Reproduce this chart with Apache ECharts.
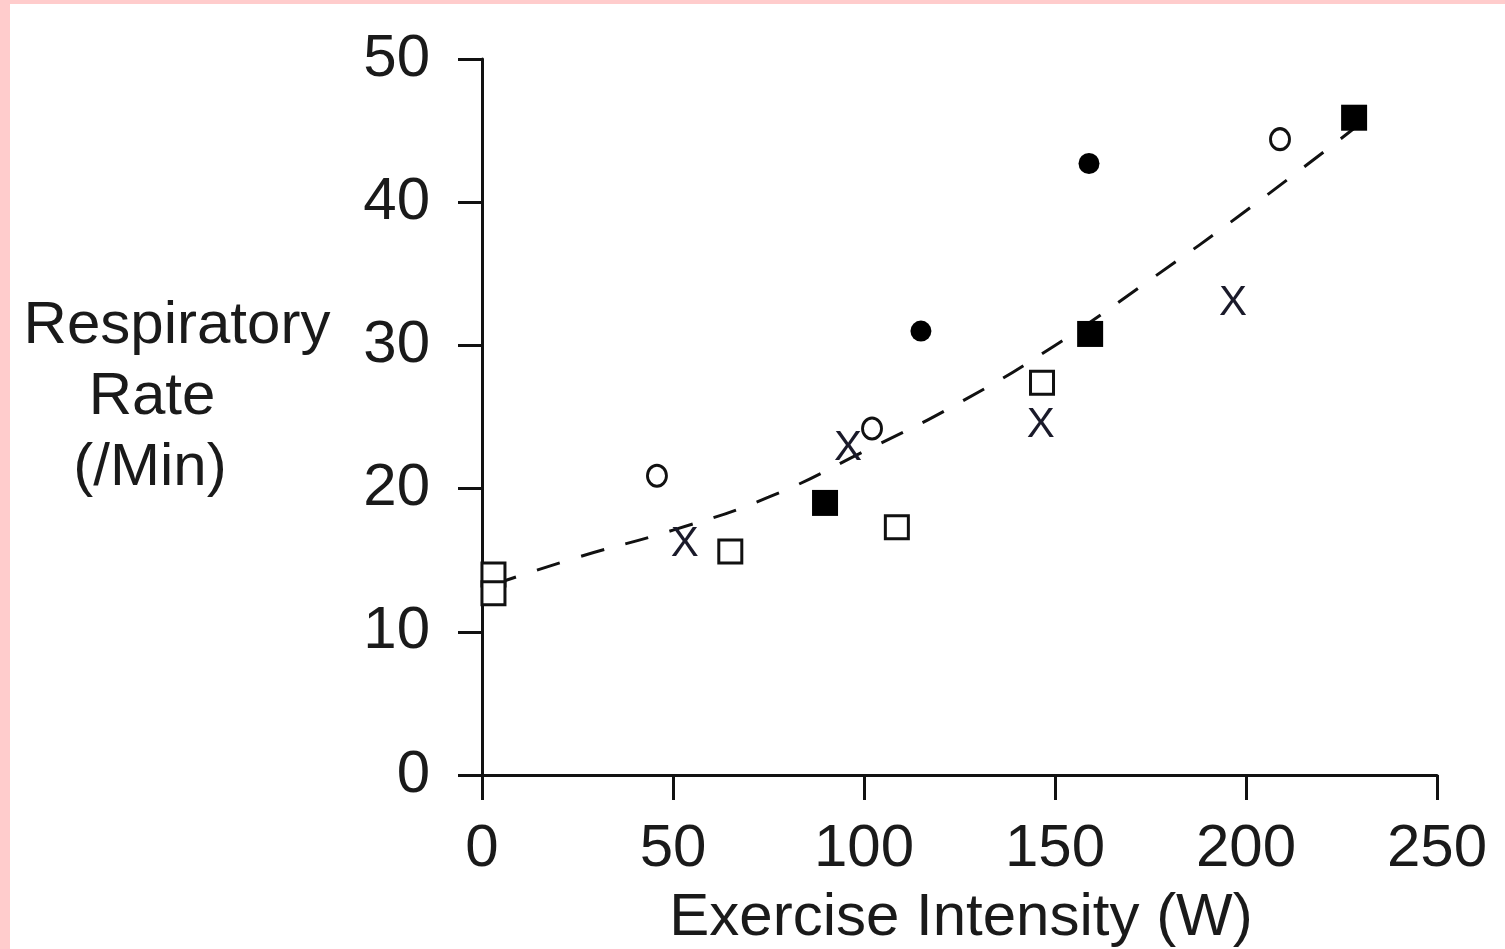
<!DOCTYPE html>
<html>
<head>
<meta charset="utf-8">
<script src="https://cdn.jsdelivr.net/npm/echarts@6/dist/echarts.min.js"></script>
<style>
html,body{margin:0;padding:0;background:#ffcccc;}
#wrap{position:absolute;left:10px;top:4px;width:1495px;height:945px;background:#fff;}
#c{position:absolute;left:0;top:0;width:1505px;height:949px;}
</style>
</head>
<body>
<div id="wrap"></div>
<div id="c"></div>
<script>
const xTicks = [0, 50, 100, 150, 200, 250];
const yTicks = [0, 10, 20, 30, 40, 50];
const openSquares = [[3, 14.0], [3, 12.7], [65, 15.6], [108.6, 17.3], [146.6, 27.4]];
const filledSquares = [[89.8, 19.0], [159.2, 30.8], [228.3, 45.9]];
const filledCircles = [[114.9, 31.0], [158.9, 42.7]];
const openCircles = [[45.8, 20.9], [102.1, 24.2], [208.9, 44.4]];
const crossMarks = [[53.1, 16.1], [95.8, 22.8], [146.3, 24.4], [196.6, 32.9]];
const trendLine = [[3, 13.3], [25, 15.2], [50, 17.1], [75, 19.4], [100, 22.6], [125, 26.0], [150, 30.0], [175, 34.6], [200, 39.4], [229, 45.3]];

const FONT = "'Liberation Sans', Arial, sans-serif";
const INK = '#111';
const TXT = '#1a1a1a';
const chart = echarts.init(document.getElementById('c'), null, {renderer: 'canvas'});
chart.setOption({
  backgroundColor: 'transparent',
  animation: false,
  grid: {left: 482, right: 68, top: 59, bottom: 174, containLabel: false},
  xAxis: {
    type: 'value', min: xTicks[0], max: xTicks[xTicks.length - 1], interval: 50,
    axisLine: {show: true, onZero: false, lineStyle: {color: INK, width: 3}},
    axisTick: {show: true, inside: false, length: 25, lineStyle: {color: INK, width: 3}},
    splitLine: {show: false},
    axisLabel: {margin: 44, fontFamily: FONT, fontSize: 60, color: TXT}
  },
  yAxis: {
    type: 'value', min: yTicks[0], max: yTicks[yTicks.length - 1], interval: 10,
    axisLine: {show: true, onZero: false, lineStyle: {color: INK, width: 3}},
    axisTick: {show: true, inside: false, length: 24, lineStyle: {color: INK, width: 3}},
    splitLine: {show: false},
    axisLabel: {margin: 52, fontFamily: FONT, fontSize: 60, color: TXT}
  },
  graphic: [
    {type: 'text', x: 177, y: 326, style: {text: 'Respiratory', fill: TXT, font: '60px ' + FONT, textAlign: 'center', textVerticalAlign: 'middle'}},
    {type: 'text', x: 152, y: 397, style: {text: 'Rate', fill: TXT, font: '60px ' + FONT, textAlign: 'center', textVerticalAlign: 'middle'}},
    {type: 'text', x: 150, y: 468, style: {text: '(/Min)', fill: TXT, font: '60px ' + FONT, textAlign: 'center', textVerticalAlign: 'middle'}},
    {type: 'text', x: 961, y: 918, style: {text: 'Exercise Intensity (W)', fill: TXT, font: '60px ' + FONT, textAlign: 'center', textVerticalAlign: 'middle'}}
  ],
  series: [
    {type: 'line', data: trendLine, smooth: true, symbol: 'none', z: 1,
     lineStyle: {color: INK, width: 3, type: [24, 22]}},
    {type: 'scatter', data: openSquares, symbol: 'rect', symbolSize: 23, z: 3,
     itemStyle: {color: '#fff', borderColor: INK, borderWidth: 3, opacity: 1}},
    {type: 'scatter', data: filledSquares, symbol: 'rect', symbolSize: 26, z: 3,
     itemStyle: {color: '#000', opacity: 1}},
    {type: 'scatter', data: filledCircles, symbol: 'circle', symbolSize: 21, z: 3,
     itemStyle: {color: '#000', opacity: 1}},
    {type: 'scatter', data: openCircles, symbol: 'circle', symbolSize: [19, 21], z: 3,
     itemStyle: {color: '#fff', borderColor: INK, borderWidth: 3, opacity: 1}},
    {type: 'scatter', data: crossMarks, symbol: 'rect', symbolSize: 2, z: 3,
     itemStyle: {color: 'transparent', opacity: 1},
     label: {show: true, position: 'inside', formatter: 'X', fontFamily: FONT, fontSize: 42, color: '#1a1a2a', opacity: 1}}
  ]
});
</script>
</body>
</html>
